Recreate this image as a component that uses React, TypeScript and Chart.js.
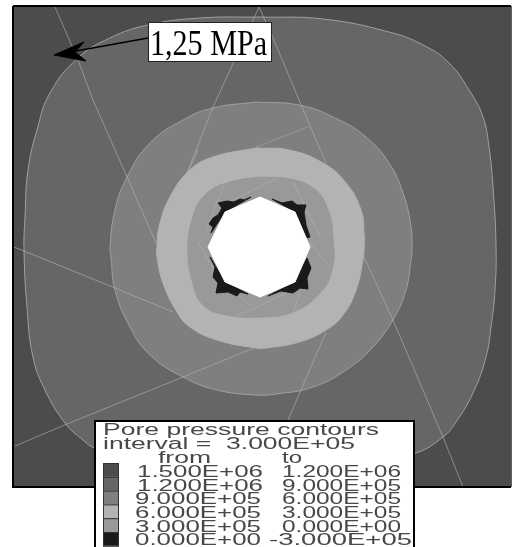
import React, { useEffect, useRef } from "react";
import { Chart, registerables } from "chart.js";

Chart.register(...registerables);

type P = [number, number];

const plotFrame: P[] = [[13, 6], [511, 6], [511, 487], [13, 487], [13, 6]];
const contour1200: P[] = [[259, 17], [323, 19], [389, 32], [423, 45], [449, 63], [469, 90], [483, 117], [489, 147], [493, 187], [496, 245], [495, 290], [491, 327], [486, 357], [473, 393], [456, 422], [443, 437], [416, 453], [350, 470], [260, 478], [170, 470], [95, 448], [83, 440], [65, 423], [45, 390], [33, 357], [27, 307], [24, 250], [25, 217], [28, 170], [37, 130], [50, 93], [78, 58], [110, 38], [148, 25], [200, 18], [259, 17]];
const contour900: P[] = [[256, 102], [299, 105], [333, 117], [366, 137], [389, 163], [403, 193], [411, 227], [412, 250], [411, 260], [406, 290], [394, 318], [373, 347], [346, 370], [313, 387], [276, 394], [256, 395], [217, 390], [183, 377], [150, 355], [130, 327], [115, 290], [111, 257], [110, 247], [115, 210], [127, 177], [150, 143], [183, 120], [213, 108], [256, 102]];
const contour600: P[] = [[256, 148], [289, 150], [323, 163], [346, 183], [361, 210], [364, 233], [364, 250], [363, 260], [356, 290], [343, 315], [326, 330], [299, 342], [266, 348], [256, 348], [217, 340], [190, 327], [177, 312], [163, 283], [157, 257], [157, 247], [159, 227], [170, 197], [190, 170], [213, 157], [256, 148]];
const contour300: P[] = [[260, 177], [290, 179], [313, 188], [327, 207], [333, 237], [332, 270], [320, 293], [293, 312], [260, 317], [227, 315], [203, 305], [192, 280], [188, 253], [192, 220], [205, 195], [230, 182], [260, 177]];
const negativeUL: P[] = [[251, 197], [244, 200], [240, 199], [234, 202], [227, 201], [218, 203], [222, 208], [218, 215], [213, 218], [209, 224], [213, 227], [211, 233], [225, 212], [251, 197]];
const negativeUR: P[] = [[272, 199], [282, 203], [292, 201], [297, 205], [306, 205], [304, 212], [306, 225], [310, 237], [307, 238], [295, 212], [272, 199]];
const negativeLR: P[] = [[307, 258], [311, 268], [307, 278], [308, 289], [300, 288], [293, 293], [281, 291], [268, 296], [295, 282], [307, 258]];
const negativeLL: P[] = [[210, 257], [215, 267], [213, 277], [218, 283], [216, 293], [228, 292], [237, 296], [240, 292], [248, 294], [225, 282], [210, 257]];
const openingOctagon: P[] = [[260, 197], [295, 212], [310, 247], [295, 282], [260, 297], [225, 282], [208, 247], [225, 212], [260, 197]];

const fissureLines: P[][] = [
  [[55, 7], [78, 60], [93, 100], [127, 177], [157, 245]],
  [[259, 7], [213, 107], [187, 173]],
  [[259, 7], [273, 38], [299, 100], [326, 163]],
  [[363, 255], [393, 320], [443, 437], [463, 487]],
  [[14, 247], [115, 288], [173, 312]],
  [[15, 446], [67, 424], [183, 377], [256, 347]],
  [[326, 332], [288, 420]],
  [[198, 150], [188, 172]],
];
const faintLines: P[][] = [
  [[256, 147], [308, 127]],
  [[225, 183], [205, 233]],
  [[198, 243], [222, 283], [250, 305]],
  [[237, 316], [300, 287]],
  [[293, 313], [310, 263]],
  [[310, 243], [332, 270]],
  [[293, 182], [320, 237]],
  [[278, 178], [227, 203]],
];

const arrowShaft: P[] = [[148, 38], [76, 51]];
const arrowHead: P[] = [[54, 55], [84, 42], [75, 52], [86, 61], [54, 55]];

const bandColors = ["#4c4c4c", "#666666", "#7f7f7f", "#b3b3b3", "#999999", "#1a1a1a"];
const legendTitle = "Pore pressure contours";
const legendInterval = "interval =  3.000E+05";
const legendHeads = ["from", "to"];
const fromLabels = ["1.500E+06", "1.200E+06", "9.000E+05", "6.000E+05", "3.000E+05", "0.000E+00"];
const toLabels = ["1.200E+06", "9.000E+05", "6.000E+05", "3.000E+05", "0.000E+00", "-3.000E+05"];
const calloutLabel = "1,25 MPa";

const pts = (a: P[]) => a.map(([x, y]) => ({ x, y }));

const region = (a: P[], color: string, edge: string, tension = 0.45) => ({
  data: pts(a),
  backgroundColor: color,
  borderColor: edge,
  borderWidth: 1,
  fill: "shape",
  pointRadius: 0,
  tension,
});
const stroke = (a: P[], color: string, width = 1) => ({
  data: pts(a),
  borderColor: color,
  borderWidth: width,
  fill: false,
  pointRadius: 0,
  tension: 0,
});

const stretched = (ctx: CanvasRenderingContext2D, text: string, x: number, y: number, width: number) => {
  const natural = ctx.measureText(text).width;
  ctx.save();
  ctx.translate(x, y);
  ctx.scale(width / natural, 1);
  ctx.fillText(text, 0, 0);
  ctx.restore();
};

const overlay = {
  id: "overlay",
  afterDatasetsDraw(chart: any) {
    const ctx: CanvasRenderingContext2D = chart.ctx;
    const sx = (v: number) => chart.scales.x.getPixelForValue(v);
    const sy = (v: number) => chart.scales.y.getPixelForValue(v);
    ctx.save();

    // callout box
    ctx.fillStyle = "#fff";
    ctx.fillRect(sx(148), sy(22), 124, 40);
    ctx.strokeStyle = "#222";
    ctx.lineWidth = 1;
    ctx.strokeRect(sx(148) + 0.5, sy(22) + 0.5, 123, 39);
    ctx.fillStyle = "#000";
    ctx.font = '36px "Liberation Serif"';
    ctx.textBaseline = "alphabetic";
    stretched(ctx, calloutLabel, sx(150), sy(55), 117);

    // legend panel
    ctx.fillStyle = "#fff";
    ctx.fillRect(sx(95), sy(421), 319, 126);
    ctx.fillStyle = "#000";
    ctx.fillRect(sx(94), sy(420), 321, 2);
    ctx.fillRect(sx(94), sy(420), 2, 127);
    ctx.fillRect(sx(413), sy(420), 2, 127);

    bandColors.forEach((c, i) => {
      const top = 463 + i * 13.8;
      ctx.fillStyle = c;
      ctx.fillRect(sx(103), sy(top), 15, 13.8);
      ctx.strokeStyle = "#333";
      ctx.lineWidth = 1;
      ctx.strokeRect(sx(103) + 0.5, sy(top) + 0.5, 15, 13.8);
    });

    ctx.fillStyle = "#484848";
    ctx.font = '16px "Liberation Sans"';
    stretched(ctx, legendTitle, sx(103), sy(435), 276);
    stretched(ctx, legendInterval, sx(103), sy(449), 252);
    stretched(ctx, legendHeads[0], sx(158), sy(463), 53);
    stretched(ctx, legendHeads[1], sx(282), sy(463), 20);
    const rows = [477, 490.5, 504, 518, 532, 545];
    fromLabels.forEach((t, i) => stretched(ctx, t, sx(i === 0 || i === 1 ? 137 : 135), sy(rows[i]), 126));
    toLabels.forEach((t, i) => stretched(ctx, t, sx(i === 5 ? 269 : 282), sy(rows[i]), i === 5 ? 143 : 119));
    ctx.restore();
  },
};

export default function App() {
  const ref = useRef<HTMLCanvasElement | null>(null);
  useEffect(() => {
    if (!ref.current) return;
    const layers = [
      region(plotFrame, bandColors[0], bandColors[0], 0),
      region(contour1200, bandColors[1], "#a0a0a0"),
      region(contour900, bandColors[2], "#a0a0a0"),
      region(contour600, bandColors[3], bandColors[3]),
      region(contour300, bandColors[4], bandColors[4]),
      ...fissureLines.map((l) => stroke(l, "rgba(180,180,180,0.6)")),
      ...faintLines.map((l) => stroke(l, "rgba(190,190,190,0.4)")),
      region(negativeUL, bandColors[5], bandColors[5], 0),
      region(negativeUR, bandColors[5], bandColors[5], 0),
      region(negativeLR, bandColors[5], bandColors[5], 0),
      region(negativeLL, bandColors[5], bandColors[5], 0),
      region(openingOctagon, "#ffffff", "#ffffff", 0),
      stroke(plotFrame.slice(0, 2), "#000", 2),
      stroke(plotFrame.slice(2, 5), "#000", 2),
      stroke(arrowShaft, "#000", 1.5),
      region(arrowHead, "#000", "#000", 0),
    ];
    const datasets = layers.map((d, i) => ({ ...d, order: layers.length - i }));
    const chart = new Chart(ref.current, {
      type: "line",
      data: { datasets: datasets as any },
      options: {
        animation: false,
        responsive: false,
        parsing: false as any,
        layout: { padding: 0 },
        plugins: { legend: { display: false }, tooltip: { enabled: false } },
        scales: {
          x: { type: "linear", display: false, min: 0, max: 512 },
          y: { type: "linear", display: false, min: 0, max: 547, reverse: true },
        },
      },
      plugins: [overlay],
    });
    return () => chart.destroy();
  }, []);
  return (
    <div style={{ position: "fixed", left: 0, top: 0, width: 512, height: 547, background: "#fff" }}>
      <canvas ref={ref} width={512} height={547} style={{ display: "block" }} />
    </div>
  );
}
